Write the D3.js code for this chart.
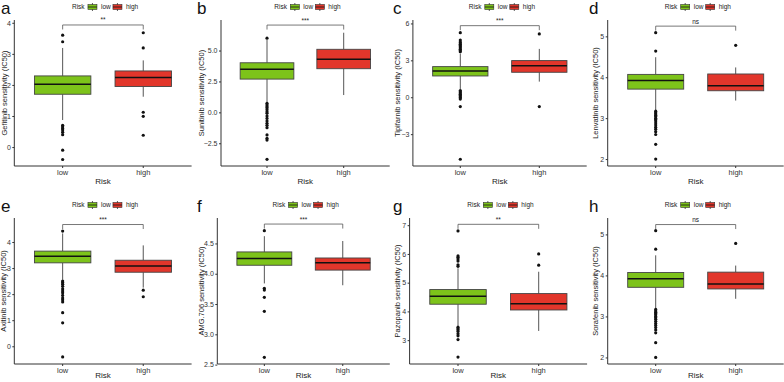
<!DOCTYPE html>
<html><head><meta charset="utf-8">
<script src="https://cdn.jsdelivr.net/npm/d3@7"></script>
<style>
html,body{margin:0;padding:0;background:#fff;}
svg{display:block;font-family:"Liberation Sans",Arial,sans-serif;}
</style></head><body>
<svg id="chart" width="784" height="382"></svg>
<script>
// ---------- data ----------
const panelLetters = ["a","b","c","d","e","f","g","h"];
const drugs = ["Gefitinib","Sunitinib","Tipifarnib","Lenvatinib","Axitinib","AMG.706","Pazopanib","Sorafenib"];
const groups = ["low","high"];
const groupColors = ["#7DC31A","#E2362B"];
// box stats: [whiskerLow, q1, median, q3, whiskerHigh]
const lowStats = [
  [0.87,1.70,2.02,2.29,3.19],
  [0.80,2.69,3.48,4.01,5.85],
  [0.65,1.73,2.14,2.49,3.55],
  [3.20,3.71,3.92,4.07,4.49],
  [2.55,3.20,3.45,3.65,4.33],
  [3.84,4.14,4.25,4.36,4.62],
  [3.50,4.25,4.53,4.76,5.50],
  [3.20,3.71,3.92,4.07,4.49]
];
const highStats = [
  [1.62,1.95,2.24,2.45,2.79],
  [1.40,3.53,4.29,5.10,6.44],
  [1.27,2.03,2.57,2.98,3.93],
  [3.43,3.67,3.79,4.08,4.24],
  [2.25,2.84,3.08,3.30,3.87],
  [3.81,4.06,4.18,4.26,4.54],
  [3.32,4.05,4.27,4.62,5.38],
  [3.43,3.67,3.79,4.08,4.24]
];
const lowOutliers = [
  [3.60,3.39,0.70,0.65,0.60,0.55,0.48,0.40,-0.10,-0.40],
  [6.00,0.73,0.60,0.46,0.35,0.20,0.05,-0.08,-0.30,-0.49,-0.70,-0.89,-1.05,-1.24,-1.83,-2.10,-2.24,-3.80],
  [5.25,4.65,4.50,4.40,4.30,4.20,4.10,4.00,3.90,3.80,3.70,0.55,0.45,0.35,0.25,0.15,0.05,-0.05,-0.15,-0.76,-5.04],
  [5.09,4.64,3.17,3.13,3.10,3.07,3.04,3.00,2.97,2.93,2.88,2.83,2.78,2.73,2.67,2.60,2.36,2.00],
  [4.42,2.50,2.45,2.38,2.30,2.20,2.12,2.05,1.95,1.85,1.78,1.70,1.29,0.90,-0.41],
  [4.71,3.76,3.73,3.61,3.38,2.62],
  [6.80,5.93,5.88,5.82,5.75,5.62,5.57,3.45,3.40,3.35,3.30,3.22,3.15,3.02,2.41],
  [5.09,4.64,3.17,3.13,3.10,3.07,3.04,3.00,2.97,2.93,2.88,2.83,2.78,2.73,2.67,2.60,2.36,2.00]
];
const highOutliers = [
  [3.68,3.19,1.12,0.99,0.38],
  [],
  [5.15,-0.76],
  [4.78],
  [2.15,1.90],
  [],
  [6.00,5.61],
  [4.78]
];
const yDomains = [[-0.61,4.09],[-4.34,7.47],[-5.59,6.28],[1.83,5.40],[-0.68,4.92],[2.51,4.92],[2.17,7.25],[1.84,5.40]];
const yTicks = [[0,1,2,3,4],[-2.5,0,2.5,5],[-3,0,3,6],[2,3,4,5],[0,1,2,3,4],[2.5,3.0,3.5,4.0,4.5],[3,4,5,6,7],[2,3,4,5]];
const tickDecimals = [0,1,0,0,0,1,0,0];
const sigLabels = ["**","***","***","ns","***","***","**","ns"];
const sigY = [3.93,7.06,5.82,5.25,4.67,4.82,7.03,5.24];

// ---------- layout ----------
const colX = [0,196,392,588];
const rowY = [0,198];
const plotLeft = [14.3,25,20.9,19.7,14.3,21.3,17.6,19.7];
const plotRight = [191.6,193.7,194.7,195.7,191.6,193.8,195.1,195.7];
const titleX = [4,5,5.7,7.3,3.3,5,5.7,7.3];
const xTitleY = [183.5,179.5];
const plotTop = 20, plotBottom = 166;

const svg = d3.select("#chart");
const axisCol = "#333";

drugs.forEach((drug, i) => {
  const row = Math.floor(i/4);
  const g = svg.append("g").attr("transform", `translate(${colX[i%4]},${rowY[row]})`);
  const x = d3.scaleBand().domain(groups).range([plotLeft[i], plotRight[i]]).paddingOuter(0.3).paddingInner(0.5);
  // ggplot discrete: positions at 0.6 and 1.6 units of 2.2
  const unit = (plotRight[i]-plotLeft[i])/2.2;
  const cx = gname => plotLeft[i] + (groups.indexOf(gname)+0.6)*unit;
  const y = d3.scaleLinear().domain(yDomains[i]).range([plotBottom, plotTop]);
  const bw = 0.7*unit;

  // panel letter
  g.append("text").attr("x",1).attr("y",13.5).attr("font-size",17).attr("fill","#111").text(panelLetters[i]);

  // legend
  const lc = (plotLeft[i]+plotRight[i])/2;
  const leg = g.append("g").attr("font-size",6.5).attr("fill","#222");
  leg.append("text").attr("x",lc-31).attr("y",9.3).text("Risk");
  groups.forEach((gn,k)=>{
    const kx = lc-15+k*25;
    leg.append("line").attr("x1",kx+4.5).attr("x2",kx+4.5).attr("y1",3).attr("y2",11).attr("stroke","#333").attr("stroke-width",0.8);
    leg.append("rect").attr("x",kx).attr("y",4.5).attr("width",9).attr("height",5).attr("fill",groupColors[k]).attr("stroke","#333").attr("stroke-width",0.6);
    leg.append("line").attr("x1",kx).attr("x2",kx+9).attr("y1",7).attr("y2",7).attr("stroke","#111").attr("stroke-width",0.8);
    leg.append("text").attr("x",kx+13).attr("y",9.3).text(gn);
  });

  // axes
  const ya = d3.axisLeft(y).tickValues(yTicks[i]).tickSize(2).tickPadding(1.5).tickFormat(d3.format(`.${tickDecimals[i]}f`));
  const yg = g.append("g").attr("transform",`translate(${plotLeft[i]},0)`).call(ya);
  yg.select(".domain").attr("d",`M0,${plotTop}V${plotBottom}`).attr("stroke",axisCol).attr("stroke-width",1);
  yg.selectAll(".tick line").attr("stroke",axisCol);
  yg.selectAll(".tick text").attr("font-size",7).attr("fill","#333").attr("font-family","Liberation Sans,Arial,sans-serif");

  const xa = d3.axisBottom(x).tickSize(2).tickPadding(2);
  const xg = g.append("g").attr("transform",`translate(0,${plotBottom})`).call(xa);
  xg.select(".domain").attr("d",`M${plotLeft[i]},0H${plotRight[i]}`).attr("stroke",axisCol).attr("stroke-width",1);
  xg.selectAll(".tick").attr("transform", d => `translate(${cx(d)},0)`);
  xg.selectAll(".tick line").attr("stroke",axisCol);
  xg.selectAll(".tick text").attr("font-size",7.5).attr("fill","#333").attr("font-family","Liberation Sans,Arial,sans-serif");

  // axis titles
  g.append("text").attr("x",(plotLeft[i]+plotRight[i])/2).attr("y",xTitleY[row]).attr("text-anchor","middle").attr("font-size",8).attr("fill","#222").text("Risk");
  g.append("text").attr("transform",`translate(${titleX[i]+2.5},${(plotTop+plotBottom)/2}) rotate(-90)`).attr("text-anchor","middle").attr("font-size",7.5).attr("fill","#222").text(`${drug} sensitivity (IC50)`);

  // boxes
  const stats = [lowStats[i], highStats[i]];
  const outs = [lowOutliers[i], highOutliers[i]];
  groups.forEach((gn,k)=>{
    const s = stats[k], c = cx(gn);
    g.append("line").attr("x1",c).attr("x2",c).attr("y1",y(s[0])).attr("y2",y(s[1])).attr("stroke","#555").attr("stroke-width",1);
    g.append("line").attr("x1",c).attr("x2",c).attr("y1",y(s[3])).attr("y2",y(s[4])).attr("stroke","#555").attr("stroke-width",1);
    g.append("rect").attr("x",c-bw/2).attr("width",bw).attr("y",y(s[3])).attr("height",y(s[1])-y(s[3]))
      .attr("fill",groupColors[k]).attr("stroke","#444").attr("stroke-width",0.9);
    g.append("line").attr("x1",c-bw/2).attr("x2",c+bw/2).attr("y1",y(s[2])).attr("y2",y(s[2])).attr("stroke","#111").attr("stroke-width",1.5);
    g.selectAll(null).data(outs[k]).enter().append("circle").attr("cx",c).attr("cy",d=>y(d)).attr("r",1.6).attr("fill","#111");
  });

  // significance bracket
  const by = y(sigY[i]);
  const x1 = cx("low"), x2 = cx("high");
  g.append("path").attr("d",`M${x1},${by+4.5}V${by}H${x2}V${by+4.5}`).attr("fill","none").attr("stroke","#555").attr("stroke-width",0.8);
  g.append("text").attr("x",(x1+x2)/2).attr("y",by-2.5).attr("text-anchor","middle").attr("font-size",6.5).attr("fill","#222").text(sigLabels[i]);
});
</script>
</body></html>
